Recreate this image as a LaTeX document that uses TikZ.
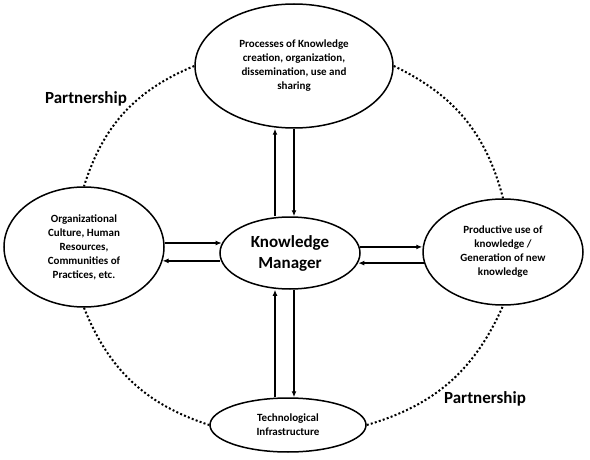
\documentclass[tikz,border=0pt]{standalone}
\usepackage{fontspec}
\setmainfont{Carlito}
\usepackage{tikz}
\usetikzlibrary{shapes.geometric, arrows.meta}

\begin{document}
\begin{tikzpicture}[
    x=1pt, y=-1pt,
    >={Latex[length=6pt,width=5pt]},
    every bubble/.style={
        draw,
        ellipse,
        line width=1.5pt,
        inner sep=0pt,
        align=center,
        font=\fontsize{11}{14}\selectfont\bfseries
    },
    thickarrow/.style={->, line width=2.3pt},
    thinarrow/.style={->, line width=1.3pt},
    partner/.style={dash pattern=on 2pt off 2.2pt, line width=2pt},
    tag/.style={font=\fontsize{17}{20}\selectfont\bfseries}
]
\useasboundingbox (0,0) rectangle (590,460);

% bubbles
\node[every bubble, minimum width=198pt, minimum height=124pt] (proc) at (294,66)
    {Processes of Knowledge\\creation, organization,\\dissemination, use and\\sharing};
\node[every bubble, minimum width=160pt, minimum height=120pt] (org) at (84,247)
    {Organizational\\Culture, Human\\Resources,\\Communities of\\Practices, etc.};
\node[every bubble, minimum width=160pt, minimum height=106pt] (prod) at (503,252)
    {Productive use of\\knowledge /\\Generation of new\\knowledge};
\node[every bubble, minimum width=156pt, minimum height=54pt] (tech) at (288,425)
    {Technological\\Infrastructure};
\node[every bubble, minimum width=140pt, minimum height=72pt,
      font=\fontsize{17}{21}\selectfont\bfseries] (km) at (290,253)
    {Knowledge\\Manager};

% labels
\node[tag] (p1) at (86,99) {Partnership};
\node[tag] (p2) at (485,399) {Partnership};

% partnership ring
\draw[partner] (proc.west) to[bend right=25] (org.north);
\draw[partner] (proc.east) to[bend left=25] (prod.north);
\draw[partner] (org.south) to[bend right=25] (tech.west);
\draw[partner] (tech.east) to[bend right=25] (prod.south);

% arrows
\draw[thinarrow] ([xshift=-15pt]km.north) -- ([xshift=-15pt]km.north |- proc.south);
\draw[thickarrow] (proc.south) -- (proc.south |- km.north);
\draw[thinarrow] ([xshift=-13pt]tech.north) -- ([xshift=-13pt]tech.north |- km.south);
\draw[thickarrow] ([xshift=6pt]tech.north |- km.south) -- ([xshift=6pt]tech.north);
\draw[thickarrow] ([yshift=4pt]org.east) -- ([yshift=4pt]org.east -| km.172);
\draw[thinarrow] (km.185 |- org.350) -- (org.350);
\draw[thickarrow] (km.5) -- (km.5 -| prod.west);
\draw[thinarrow] (prod.188) -- (prod.188 -| km.352);
\end{tikzpicture}
\end{document}
